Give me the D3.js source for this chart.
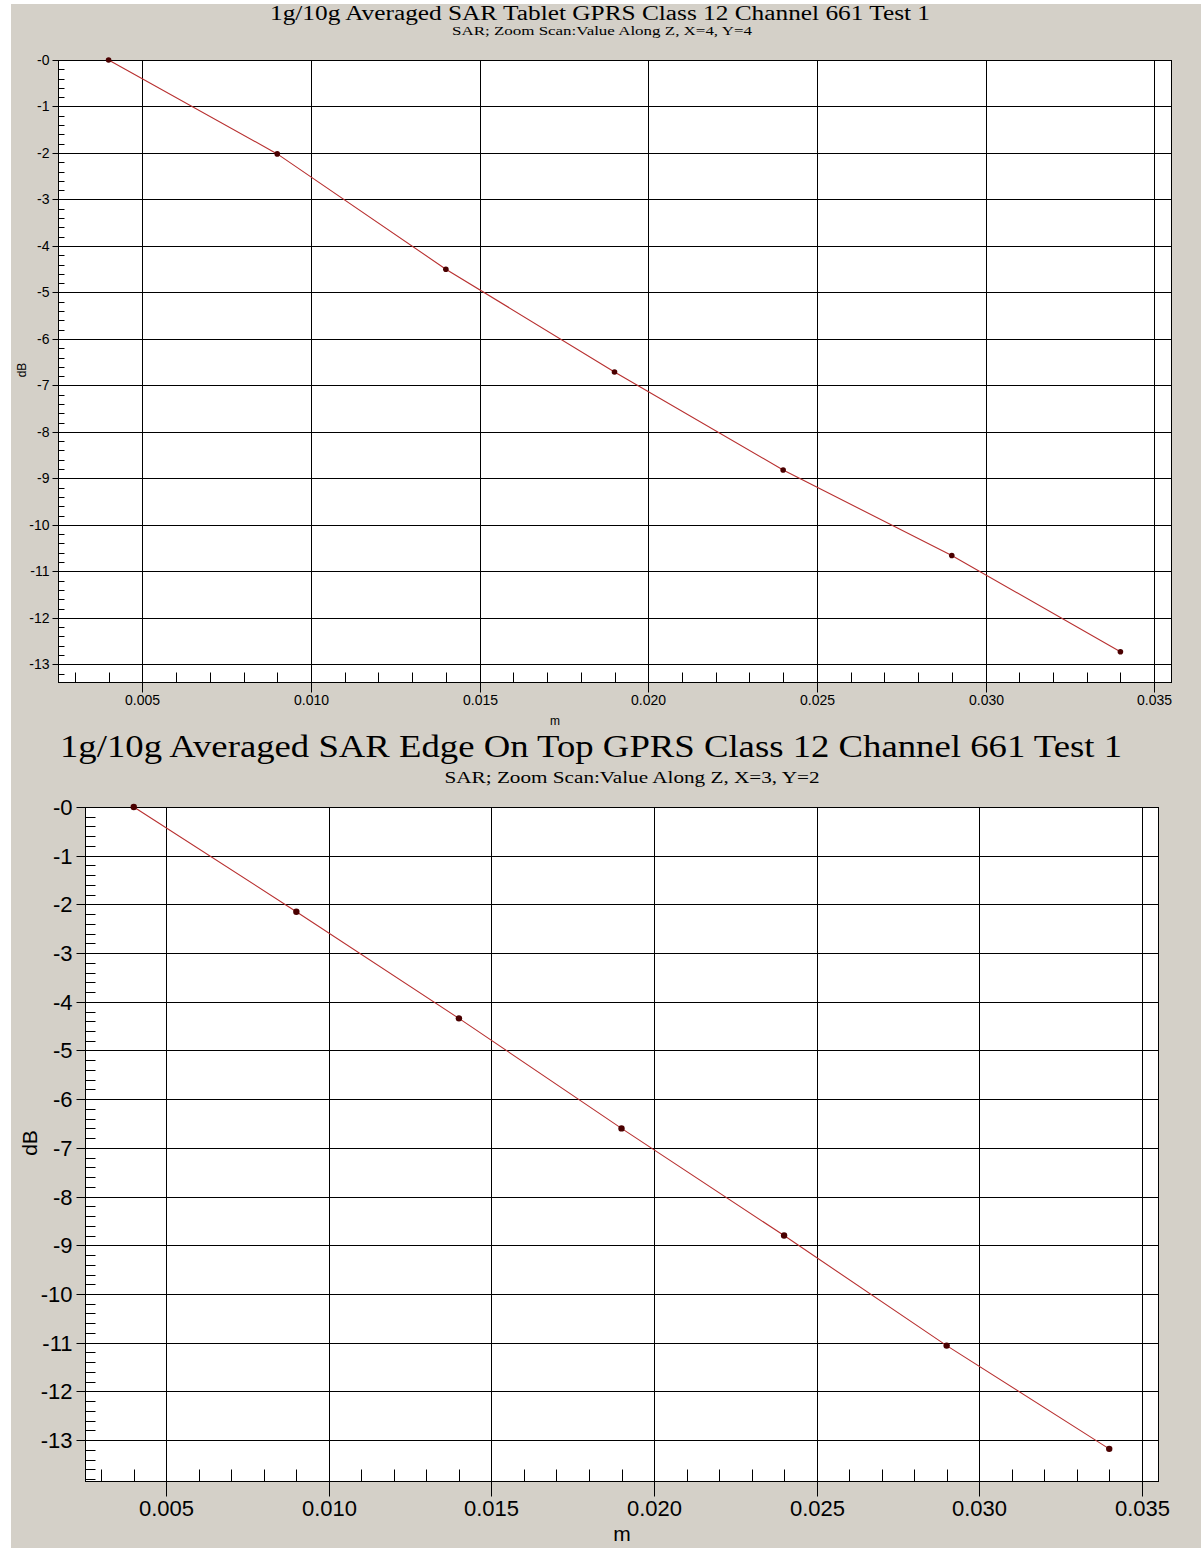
<!DOCTYPE html>
<html lang="en">
<head>
<meta charset="utf-8">
<script src="https://cdn.jsdelivr.net/npm/d3@7"></script>
<style>
  body { margin: 0; background: #fff; }
  svg { display: block; }
</style>
</head>
<body>
<div id="chart"></div>
<script>
// data
var distance = [0.004, 0.009, 0.014, 0.019, 0.024, 0.029, 0.034];
var tabletValues = [0, -2.02, -4.50, -6.71, -8.82, -10.66, -12.73];
var edgeValues = [0, -2.15, -4.34, -6.60, -8.80, -11.06, -13.18];

var xTicks = [0.005, 0.010, 0.015, 0.020, 0.025, 0.030, 0.035];
var xTickLabels = ["0.005", "0.010", "0.015", "0.020", "0.025", "0.030", "0.035"];
var yTicks = [0, -1, -2, -3, -4, -5, -6, -7, -8, -9, -10, -11, -12, -13];
var yTickLabels = ["-0", "-1", "-2", "-3", "-4", "-5", "-6", "-7", "-8", "-9", "-10", "-11", "-12", "-13"];

var titles = ["1g/10g Averaged SAR Tablet GPRS Class 12 Channel 661 Test 1",
              "1g/10g Averaged SAR Edge On Top GPRS Class 12 Channel 661 Test 1"];
var subtitles = ["SAR; Zoom Scan:Value Along Z, X=4, Y=4",
                 "SAR; Zoom Scan:Value Along Z, X=3, Y=2"];

var W = 1201, H = 1548;
var svg = d3.select('#chart').append('svg')
  .attr('width', W)
  .attr('height', H);

// grey panel, small white strip left and top
svg.append('rect')
  .attr('x', 11).attr('y', 4)
  .attr('width', W - 11).attr('height', H - 4)
  .style('fill', '#d4d0c8');

// minor tick positions
var xMinor = d3.range(3, 36).map(function(d){ return d / 1000; })
  .filter(function(d){ return Math.round(d * 1000) % 5 != 0; });

function drawChart(opt, values, k) {
  var x = d3.scaleLinear().domain([0.0025, 0.0355]).range([opt.left, opt.right]);
  var y = d3.scaleLinear().domain([0, opt.yMin]).range([opt.top, opt.bottom]);

  var yMinor = d3.range(1, Math.floor(-opt.yMin * 5) + 1)
    .map(function(d){ return -d / 5; })
    .filter(function(d){ return Math.round(d * 5) % 5 != 0; });

  var g = svg.append('g');

  // plot background
  g.append('rect')
    .attr('x', opt.left).attr('y', opt.top)
    .attr('width', opt.right - opt.left).attr('height', opt.bottom - opt.top)
    .style('fill', '#fff');

  // grid
  g.selectAll('.vgrid').data(xTicks).enter().append('line')
    .attr('x1', function(d){ return Math.round(x(d)) + 0.5; })
    .attr('x2', function(d){ return Math.round(x(d)) + 0.5; })
    .attr('y1', opt.top).attr('y2', opt.bottom)
    .style('stroke', '#000');
  g.selectAll('.hgrid').data(yTicks).enter().append('line')
    .attr('x1', opt.left).attr('x2', opt.right)
    .attr('y1', function(d){ return Math.round(y(d)) + 0.5; })
    .attr('y2', function(d){ return Math.round(y(d)) + 0.5; })
    .style('stroke', '#000');

  // border
  g.append('rect')
    .attr('x', opt.left + 0.5).attr('y', opt.top + 0.5)
    .attr('width', opt.right - opt.left).attr('height', opt.bottom - opt.top)
    .style('fill', 'none')
    .style('stroke', '#000');

  // major axes
  var xAxis = d3.axisBottom(x)
    .tickValues(xTicks)
    .tickFormat(function(d, i){ return xTickLabels[i]; })
    .tickSizeInner(opt.xMajor).tickSizeOuter(0).tickPadding(opt.xPad);
  var xg = g.append('g')
    .attr('transform', 'translate(0,' + (opt.bottom + 0.5) + ')')
    .call(xAxis);

  var yAxis = d3.axisLeft(y)
    .tickValues(yTicks)
    .tickFormat(function(d, i){ return yTickLabels[i]; })
    .tickSizeInner(opt.yMajor).tickSizeOuter(0).tickPadding(opt.yPad);
  var yg = g.append('g')
    .attr('transform', 'translate(' + (opt.left + 0.5) + ',0)')
    .call(yAxis);

  // minor ticks, inside the plot
  var xmg = g.append('g')
    .attr('transform', 'translate(0,' + (opt.bottom + 0.5) + ')')
    .call(d3.axisTop(x).tickValues(xMinor).tickFormat('').tickSizeInner(opt.xMinorLen).tickSizeOuter(0));
  var ymg = g.append('g')
    .attr('transform', 'translate(' + (opt.left + 0.5) + ',0)')
    .call(d3.axisRight(y).tickValues(yMinor).tickFormat('').tickSizeInner(opt.yMinorLen).tickSizeOuter(0));

  [xg, yg, xmg, ymg].forEach(function(a){
    a.select('.domain').remove();
    a.selectAll('line').style('stroke', '#000');
    a.selectAll('text')
      .style('font-family', 'Liberation Sans, Arial, sans-serif')
      .style('font-size', opt.tickFont + 'px')
      .style('fill', '#000');
  });
  // snap tick lines
  xg.selectAll('.tick').attr('transform', function(d){ return 'translate(' + (Math.round(x(d)) + 0.5) + ',0)'; });
  xmg.selectAll('.tick').attr('transform', function(d){ return 'translate(' + (Math.round(x(d)) + 0.5) + ',0)'; });
  yg.selectAll('.tick').attr('transform', function(d){ return 'translate(0,' + (Math.round(y(d)) + 0.5) + ')'; });
  ymg.selectAll('.tick').attr('transform', function(d){ return 'translate(0,' + (Math.round(y(d)) + 0.5) + ')'; });

  // data line
  var line = d3.line()
    .x(function(d, i){ return x(distance[i]); })
    .y(function(d){ return y(d); });
  g.append('path')
    .datum(values)
    .attr('d', line)
    .style('fill', 'none')
    .style('stroke', '#b83030')
    .style('stroke-width', 1.1);

  // point markers
  g.selectAll('.pt').data(values).enter().append('circle')
    .attr('cx', function(d, i){ return x(distance[i]); })
    .attr('cy', function(d){ return y(d); })
    .attr('r', opt.dot)
    .style('fill', '#4a0000');

  // titles
  svg.append('text')
    .attr('x', opt.titleX).attr('y', opt.titleY)
    .attr('text-anchor', 'middle')
    .attr('textLength', opt.titleW).attr('lengthAdjust', 'spacingAndGlyphs')
    .style('font-family', 'Liberation Serif, Times New Roman, serif')
    .style('font-size', opt.titleFont + 'px')
    .text(titles[k]);
  svg.append('text')
    .attr('x', opt.subX).attr('y', opt.subY)
    .attr('text-anchor', 'middle')
    .attr('textLength', opt.subW).attr('lengthAdjust', 'spacingAndGlyphs')
    .style('font-family', 'Liberation Serif, Times New Roman, serif')
    .style('font-size', opt.subFont + 'px')
    .text(subtitles[k]);

  // axis names
  svg.append('text')
    .attr('x', opt.mX).attr('y', opt.mY)
    .attr('text-anchor', 'middle')
    .style('font-family', 'Liberation Sans, Arial, sans-serif')
    .style('font-size', opt.labelFont + 'px')
    .text('m');
  svg.append('text')
    .attr('transform', 'translate(' + opt.dbX + ',' + opt.dbY + ') rotate(-90)')
    .attr('text-anchor', 'middle')
    .style('font-family', 'Liberation Sans, Arial, sans-serif')
    .style('font-size', opt.labelFont + 'px')
    .text('dB');
}

drawChart({
  left: 58, right: 1171, top: 60, bottom: 682, yMin: -13.38,
  xMajor: 10, yMajor: 6, xMinorLen: 10, yMinorLen: 6, xPad: 3, yPad: 3,
  tickFont: 14, dot: 2.8,
  titleX: 600, titleY: 20, titleW: 660, titleFont: 20,
  subX: 602, subY: 35, subW: 300, subFont: 12,
  mX: 555, mY: 725, dbX: 26, dbY: 370, labelFont: 12
}, tabletValues, 0);

drawChart({
  left: 85, right: 1158, top: 807, bottom: 1481, yMin: -13.84,
  xMajor: 15, yMajor: 9, xMinorLen: 12, yMinorLen: 10, xPad: 4, yPad: 4,
  tickFont: 22, dot: 3.2,
  titleX: 591, titleY: 757, titleW: 1062, titleFont: 32,
  subX: 632, subY: 783, subW: 375, subFont: 17,
  mX: 622, mY: 1541, dbX: 37, dbY: 1143, labelFont: 21
}, edgeValues, 1);
</script>
</body>
</html>
